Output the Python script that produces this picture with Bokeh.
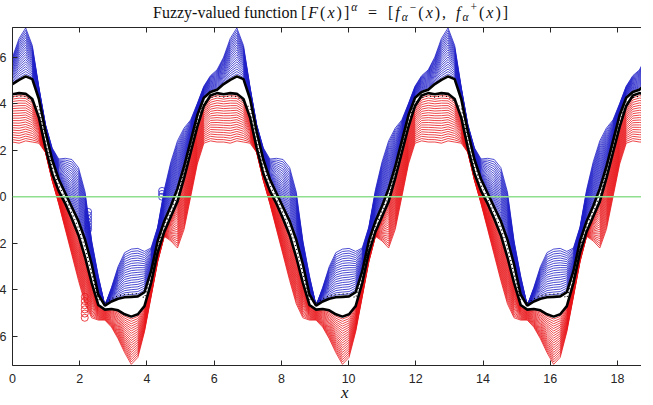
import numpy as np
from bokeh.plotting import figure
from bokeh.layouts import column
from bokeh.models import Range1d, LinearAxis, FixedTicker, Span, Div
from bokeh.embed import file_html
from bokeh.resources import INLINE

# sample positions (three periods, 0 .. 6*pi)
x = [0.0, 0.1963, 0.3927, 0.5890, 0.7854, 0.9817, 1.1781, 1.3744, 1.5708, 1.7671, 1.9635, 2.1598,
     2.3562, 2.5525, 2.7489, 2.9452, 3.1416, 3.3379, 3.5343, 3.7306, 3.9270, 4.1233, 4.3197, 4.5160,
     4.7124, 4.9087, 5.1051, 5.3014, 5.4978, 5.6941, 5.8905, 6.0868,
     6.2832, 6.4795, 6.6759, 6.8722, 7.0686, 7.2649, 7.4613, 7.6576, 7.8540, 8.0503, 8.2467, 8.4430,
     8.6394, 8.8357, 9.0321, 9.2284, 9.4248, 9.6211, 9.8175, 10.0138, 10.2102, 10.4065, 10.6029, 10.7992,
     10.9956, 11.1919, 11.3883, 11.5846, 11.7810, 11.9773, 12.1737, 12.3700,
     12.5664, 12.7627, 12.9591, 13.1554, 13.3518, 13.5481, 13.7445, 13.9408, 14.1372, 14.3335, 14.5299, 14.7262,
     14.9226, 15.1189, 15.3153, 15.5116, 15.7080, 15.9043, 16.1007, 16.2970, 16.4934, 16.6897, 16.8861, 17.0824,
     17.2788, 17.4751, 17.6715, 17.8678, 18.0642, 18.2605, 18.4569, 18.6532, 18.8496]

# alpha = 1 level: upper and lower core curves
upper_core = [4.84, 5.02, 5.17, 5.05, 4.2, 2.8, 1.6, 0.75, 0.15, -0.45, -1.05, -1.85, -2.9, -4.2, -4.68, -4.5,
              -4.38, -4.32, -4.3, -4.28, -4.1, -3.2, -1.9, -1.05, -0.4, 0.35, 1.3, 2.4, 3.5, 4.25, 4.5, 4.6,
              4.84, 5.02, 5.17, 5.05, 4.2, 2.8, 1.6, 0.75, 0.15, -0.45, -1.05, -1.85, -2.9, -4.2, -4.68, -4.5,
              -4.38, -4.32, -4.3, -4.28, -4.1, -3.2, -1.9, -1.05, -0.4, 0.35, 1.3, 2.4, 3.5, 4.25, 4.5, 4.6,
              4.84, 5.02, 5.17, 5.05, 4.2, 2.8, 1.6, 0.75, 0.15, -0.45, -1.05, -1.85, -2.9, -4.2, -4.68, -4.5,
              -4.38, -4.32, -4.3, -4.28, -4.1, -3.2, -1.9, -1.05, -0.4, 0.35, 1.3, 2.4, 3.5, 4.25, 4.5, 4.6,
              4.84]
lower_core = [4.4, 4.45, 4.42, 4.2, 3.4, 2.1, 1.0, 0.25, -0.3, -0.95, -1.65, -2.6, -3.7, -4.65, -4.85, -4.82,
              -4.88, -5.05, -5.15, -5.05, -4.7, -3.7, -2.4, -1.5, -0.85, -0.2, 0.8, 1.9, 3.0, 3.9, 4.35, 4.45,
              4.4, 4.45, 4.42, 4.2, 3.4, 2.1, 1.0, 0.25, -0.3, -0.95, -1.65, -2.6, -3.7, -4.65, -4.85, -4.82,
              -4.88, -5.05, -5.15, -5.05, -4.7, -3.7, -2.4, -1.5, -0.85, -0.2, 0.8, 1.9, 3.0, 3.9, 4.35, 4.45,
              4.4, 4.45, 4.42, 4.2, 3.4, 2.1, 1.0, 0.25, -0.3, -0.95, -1.65, -2.6, -3.7, -4.65, -4.85, -4.82,
              -4.88, -5.05, -5.15, -5.05, -4.7, -3.7, -2.4, -1.5, -0.85, -0.2, 0.8, 1.9, 3.0, 3.9, 4.35, 4.45,
              4.4]
# dotted crisp curve running along the core
core_dots = [4.28, 4.33, 4.3, 4.08, 3.8, 2.45, 1.3, 0.5, -0.08, -0.7, -1.35, -2.2, -3.3, -4.4, -4.56, -4.38,
             -4.26, -4.2, -4.18, -4.16, -4.35, -3.45, -2.15, -1.27, -0.62, 0.07, 1.05, 2.15, 3.25, 4.05, 4.25, 4.33,
             4.28, 4.33, 4.3, 4.08, 3.8, 2.45, 1.3, 0.5, -0.08, -0.7, -1.35, -2.2, -3.3, -4.4, -4.56, -4.38,
             -4.26, -4.2, -4.18, -4.16, -4.35, -3.45, -2.15, -1.27, -0.62, 0.07, 1.05, 2.15, 3.25, 4.05, 4.25, 4.33,
             4.28, 4.33, 4.3, 4.08, 3.8, 2.45, 1.3, 0.5, -0.08, -0.7, -1.35, -2.2, -3.3, -4.4, -4.56, -4.38,
             -4.26, -4.2, -4.18, -4.16, -4.35, -3.45, -2.15, -1.27, -0.62, 0.07, 1.05, 2.15, 3.25, 4.05, 4.25, 4.33,
             4.28]
# alpha = 0 level: support bounds
upper_support = [6.0, 6.8, 7.25, 6.5, 4.7, 3.1, 2.1, 1.62, 1.65, 1.6, 1.25, 0.2, -1.9, -3.4, -4.68, -3.9,
                 -3.0, -2.4, -2.25, -2.22, -2.35, -2.2, -1.3, 0.3, 1.5, 2.4, 2.95, 3.3, 4.0, 4.75, 5.2, 5.45,
                 6.0, 6.8, 7.25, 6.5, 4.7, 3.1, 2.1, 1.62, 1.65, 1.6, 1.25, 0.2, -1.9, -3.4, -4.68, -3.9,
                 -3.0, -2.4, -2.25, -2.22, -2.35, -2.2, -1.3, 0.3, 1.5, 2.4, 2.95, 3.3, 4.0, 4.75, 5.2, 5.45,
                 6.0, 6.8, 7.25, 6.5, 4.7, 3.1, 2.1, 1.62, 1.65, 1.6, 1.25, 0.2, -1.9, -3.4, -4.68, -3.9,
                 -3.0, -2.4, -2.25, -2.22, -2.35, -2.2, -1.3, 0.3, 1.5, 2.4, 2.95, 3.3, 4.0, 4.75, 5.2, 5.45,
                 6.0]
lower_support = [2.35, 2.3, 2.4, 2.35, 2.3, 1.9, 0.7, -0.3, -1.4, -2.5, -3.6, -4.6, -5.2, -5.3, -5.3, -5.6,
                 -6.1, -6.7, -7.2, -6.9, -5.8, -4.3, -2.8, -1.7, -1.9, -2.2, -1.4, 0.0, 1.4, 2.3, 2.4, 2.35,
                 2.35, 2.3, 2.4, 2.35, 2.3, 1.9, 0.7, -0.3, -1.4, -2.5, -3.6, -4.6, -5.2, -5.3, -5.3, -5.6,
                 -6.1, -6.7, -7.2, -6.9, -5.8, -4.3, -2.8, -1.7, -1.9, -2.2, -1.4, 0.0, 1.4, 2.3, 2.4, 2.35,
                 2.35, 2.3, 2.4, 2.35, 2.3, 1.9, 0.7, -0.3, -1.4, -2.5, -3.6, -4.6, -5.2, -5.3, -5.3, -5.6,
                 -6.1, -6.7, -7.2, -6.9, -5.8, -4.3, -2.8, -1.7, -1.9, -2.2, -1.4, 0.0, 1.4, 2.3, 2.4, 2.35,
                 2.35]

alpha_levels = [0.0, 0.05, 0.1, 0.15, 0.2, 0.25, 0.3, 0.35, 0.4, 0.45,
                0.5, 0.55, 0.6, 0.65, 0.7, 0.75, 0.8, 0.85, 0.9, 0.95]

# marked switching points
blue_mark_x = [2.25, 2.25, 2.25, 2.25, 2.25, 2.25, 4.45, 4.45, 4.45]
blue_mark_y = [-0.65, -0.8, -0.95, -1.1, -1.25, -1.4, 0.25, 0.12, 0.0]
red_mark_x = [2.15, 2.15, 2.15, 2.15, 2.15, 2.15]
red_mark_y = [-4.3, -4.48, -4.66, -4.84, -5.02, -5.2]

x_ticks = [0, 2, 4, 6, 8, 10, 12, 14, 16, 18]
y_ticks = [-6, -4, -2, 0, 2, 4, 6]

# ---- page geometry ----
PAGE_W = 653
TITLE_H = 27
SHIFT = 12          # the left strip of the figure (minus signs) lies off the page
FIG_W = PAGE_W + SHIFT
FIG_H = 405 - TITLE_H
AX = "#262626"

p = figure(width=FIG_W, height=FIG_H, x_range=Range1d(0.0, 18.715), y_range=Range1d(-7.25, 7.27),
           output_backend="svg", toolbar_location=None, title=None,
           min_border_left=24, min_border_right=0, min_border_top=0, min_border_bottom=40,
           margin=(0, 0, 0, -SHIFT))
p.outline_line_color = None
p.xgrid.visible = False
p.ygrid.visible = False
p.background_fill_color = "white"
p.border_fill_color = None

for ax in p.xaxis:
    ax.ticker = FixedTicker(ticks=x_ticks)
    ax.major_tick_in = 5
    ax.major_tick_out = 0
    ax.minor_tick_line_color = None
    ax.axis_line_color = AX
    ax.major_tick_line_color = AX
    ax.major_label_text_font = "Liberation Sans"
    ax.major_label_text_font_size = "12.5px"
    ax.major_label_text_color = AX
    ax.major_label_standoff = 8

for ax in p.yaxis:
    ax.ticker = FixedTicker(ticks=y_ticks)
    ax.major_tick_in = 5
    ax.major_tick_out = 0
    ax.minor_tick_line_color = None
    ax.axis_line_color = AX
    ax.major_tick_line_color = AX
    ax.major_label_text_font = "Liberation Sans"
    ax.major_label_text_font_size = "12.5px"
    ax.major_label_text_color = AX
    ax.major_label_standoff = 6

top_axis = LinearAxis(ticker=FixedTicker(ticks=x_ticks), major_tick_in=5, major_tick_out=0,
                      minor_tick_line_color=None, axis_line_color=AX, major_tick_line_color=AX,
                      major_label_text_font_size="0px", major_label_standoff=0)
p.add_layout(top_axis, "above")

# zero line
p.add_layout(Span(location=0, dimension="width", line_color="#8fdf8f", line_width=1.5))

xs = np.array(x)
U1 = np.array(upper_core)
L1 = np.array(lower_core)
U0 = np.array(upper_support)
L0 = np.array(lower_support)

red_lines = [L1 + (1 - a) * (L0 - L1) for a in alpha_levels]
blue_lines = [U1 + (1 - a) * (U0 - U1) for a in alpha_levels]

p.multi_line([xs] * len(red_lines), red_lines, line_color="#e8161b", line_width=0.8)
p.multi_line([xs] * len(blue_lines), blue_lines, line_color="#2020c8", line_width=0.8)

p.scatter(red_mark_x, red_mark_y, marker="circle", size=7, fill_color=None,
          line_color="#e8161b", line_width=0.8)
p.scatter(blue_mark_x, blue_mark_y, marker="circle", size=7, fill_color=None,
          line_color="#2020c8", line_width=0.8)

p.line(xs, U1, line_color="black", line_width=2.6)
p.line(xs, L1, line_color="black", line_width=2.6)
p.line(xs, core_dots, line_color="black", line_width=1.2, line_dash="1 3")

# title (plain words + math part) and the x-axis caption, set as positioned text blocks
sup = '<span style="font-size:11.5px; position:relative; top:-7px; font-style:italic">{}</span>'
supn = '<span style="font-size:11.5px; position:relative; top:-7px">{}</span>'
sub = '<span style="font-size:11.5px; position:relative; top:3px; font-style:italic">{}</span>'
# (left px, baseline px, font px, letter spacing px, html)
blocks = [
    (153, 19, 16, 0, "Fuzzy-valued function"),
    (301, 19, 16, 2, "[<i>F</i>(<i>x</i>)]" + sup.format("α")),
    (368, 19, 16, 0, "="),
    (388, 19, 16, 2, "[<i>f</i>" + sub.format("α") + supn.format("−") + "(<i>x</i>),"),
    (456, 19, 16, 2, "<i>f</i>" + sub.format("α") + supn.format("+") + "(<i>x</i>)]"),
    (341, 399, 17, 0, "<i>x</i>"),
]
pieces = []
for left, base, size, spacing, html in blocks:
    top = base - 0.891 * size
    pieces.append(
        f'<div style="position:absolute; left:{left}px; top:{top:.1f}px; z-index:5; '
        f'white-space:nowrap; font-family:\'Liberation Serif\', serif; font-size:{size}px; '
        f'letter-spacing:{spacing}px; line-height:{size}px; color:#111111">{html}</div>'
    )
title_div = Div(text="".join(pieces), width=PAGE_W, height=TITLE_H, margin=(0, 0, 0, 0),
                styles={"position": "relative", "overflow": "visible", "z-index": "5"})

layout = column(title_div, p, width=PAGE_W, spacing=0)

open("out.html", "w").write(file_html(layout, INLINE))
